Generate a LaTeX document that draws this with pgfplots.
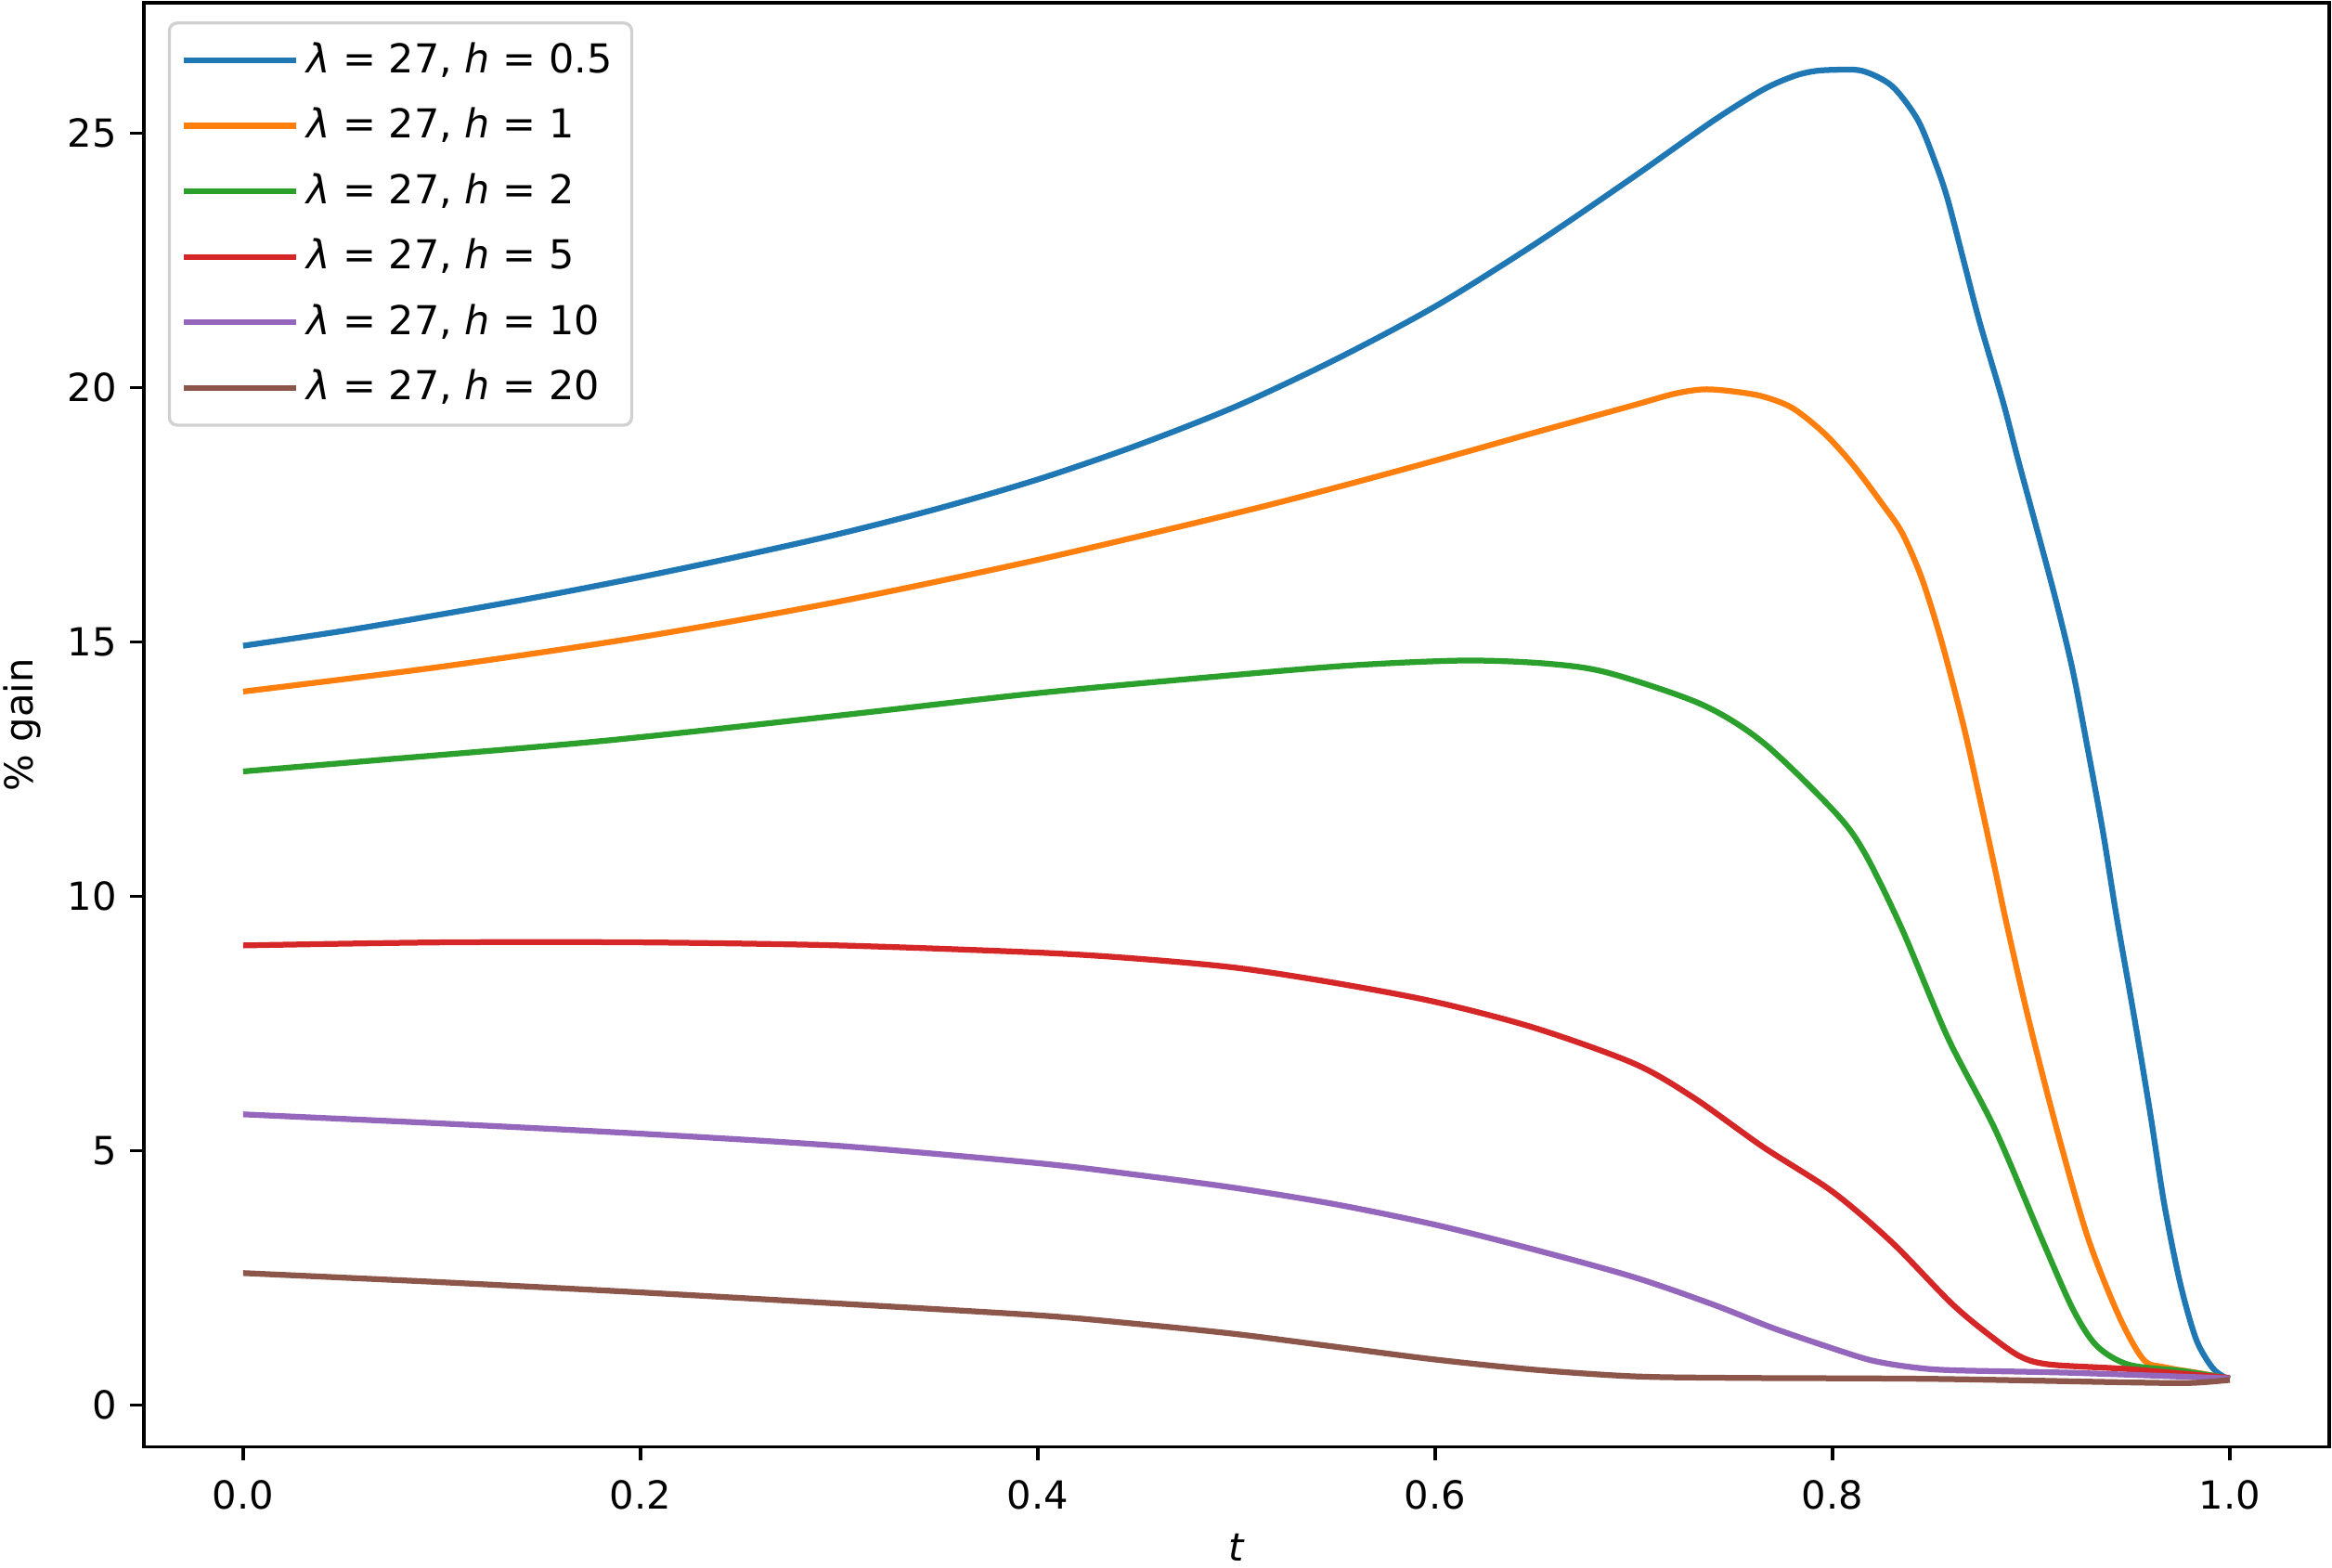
\documentclass[border=0pt]{standalone}
\usepackage{pgfplots}
\pgfplotsset{compat=1.18}
\usepackage{fontspec}
\setmainfont{DejaVu Sans}
\definecolor{C0}{HTML}{1F77B4}
\definecolor{C1}{HTML}{FF7F0E}
\definecolor{C2}{HTML}{2CA02C}
\definecolor{C3}{HTML}{D62728}
\definecolor{C4}{HTML}{9467BD}
\definecolor{C5}{HTML}{8C564B}
\newcommand{\lab}[1]{\textit{λ} = 27, \textit{h} = #1}
\begin{document}
\begin{tikzpicture}
\begin{axis}[
  scale only axis,
  width=565pt, height=373.4pt,
  xmin=-0.05, xmax=1.05, ymin=-0.82, ymax=27.57,
  xtick={0,0.2,0.4,0.6,0.8,1.0},
  ytick={0,5,10,15,20,25},
  xticklabel style={/pgf/number format/fixed,/pgf/number format/fixed zerofill,/pgf/number format/precision=1, yshift=-1.5pt},
  /pgf/number format/assume math mode=true,
  tick align=outside, tick pos=left,
  major tick length=3.5pt,
  every tick/.style={black, line width=0.8pt},
  axis line style={line width=0.8pt},
  ticklabel style={font=\fontsize{10}{12}\selectfont},
  xlabel={\textit{t}}, ylabel={\% gain},
  label style={font=\fontsize{10}{12}\selectfont},
  xlabel style={yshift=0.5pt},
  legend style={at={(rel axis cs:0.011,0.987)}, anchor=north west,
    draw=black!18, line width=0.8pt, rounded corners=2pt, fill=white,
    font=\fontsize{10.3}{12}\selectfont, row sep=3.6pt, inner xsep=3pt, inner ysep=3pt},
  legend cell align=left,
  legend image code/.code={\draw[#1, line width=1.5pt] (0pt,0pt) -- (24pt,0pt); \path (0pt,0pt) -- (29pt,0pt);},
  every axis plot/.append style={line width=1.5pt, smooth, tension=0.5},
]
\addplot[C0] coordinates {(0,14.93)(0.05,15.22)(0.1,15.55)(0.15,15.9)(0.2,16.28)(0.25,16.69)(0.3,17.13)(0.35,17.63)(0.4,18.2)(0.45,18.87)(0.5,19.64)(0.55,20.56)(0.6,21.6)(0.65,22.82)(0.7,24.15)(0.74,25.25)(0.765,25.86)(0.78,26.12)(0.79,26.22)(0.8,26.25)(0.815,26.23)(0.83,25.93)(0.843,25.26)(0.852,24.4)(0.858,23.7)(0.866,22.5)(0.874,21.3)(0.886,19.7)(0.894,18.5)(0.911,16.04)(0.9206,14.5)(0.928,13.0)(0.936,11.3)(0.943,9.6)(0.952,7.6)(0.96,5.72)(0.967,3.95)(0.975,2.4)(0.983,1.3)(0.991,0.75)(0.997,0.56)(1.0,0.52)};
\addlegendentry{\lab{0.5}}
\addplot[C1] coordinates {(0,14.03)(0.1,14.52)(0.2,15.1)(0.3,15.8)(0.4,16.62)(0.5,17.54)(0.55,18.04)(0.6,18.57)(0.65,19.12)(0.7,19.66)(0.72,19.88)(0.735,19.97)(0.75,19.93)(0.765,19.83)(0.78,19.6)(0.796,19.1)(0.81,18.5)(0.825,17.72)(0.835,17.15)(0.845,16.25)(0.855,15.0)(0.866,13.35)(0.874,11.95)(0.882,10.5)(0.888,9.4)(0.899,7.54)(0.913,5.41)(0.9285,3.3)(0.944,1.77)(0.9565,0.9)(0.967,0.75)(0.985,0.63)(1.0,0.52)};
\addlegendentry{\lab{1}}
\addplot[C2] coordinates {(0,12.46)(0.064,12.67)(0.181,13.06)(0.2977,13.55)(0.4,14.0)(0.5,14.36)(0.56,14.55)(0.615,14.64)(0.656,14.58)(0.687,14.4)(0.734,13.78)(0.765,13.03)(0.801,11.67)(0.816,10.87)(0.835,9.36)(0.858,7.23)(0.882,5.41)(0.905,3.3)(0.921,1.89)(0.933,1.17)(0.949,0.8)(0.975,0.68)(0.995,0.56)(1.0,0.52)};
\addlegendentry{\lab{2}}
\addplot[C3] coordinates {(0,9.04)(0.1,9.1)(0.2,9.1)(0.3,9.04)(0.4,8.9)(0.45,8.78)(0.5,8.6)(0.55,8.3)(0.6,7.93)(0.65,7.42)(0.7,6.72)(0.73,6.05)(0.765,5.08)(0.8,4.2)(0.83,3.2)(0.86,2.0)(0.88,1.35)(0.895,0.95)(0.91,0.8)(0.95,0.71)(1.0,0.54)};
\addlegendentry{\lab{5}}
\addplot[C4] coordinates {(0,5.72)(0.1,5.54)(0.2,5.34)(0.3,5.1)(0.4,4.76)(0.45,4.53)(0.5,4.27)(0.55,3.95)(0.6,3.55)(0.65,3.06)(0.7,2.52)(0.74,1.98)(0.77,1.52)(0.8,1.12)(0.82,0.88)(0.84,0.75)(0.86,0.69)(0.92,0.64)(1.0,0.53)};
\addlegendentry{\lab{10}}
\addplot[C5] coordinates {(0,2.6)(0.1,2.42)(0.2,2.22)(0.3,2.0)(0.4,1.77)(0.45,1.6)(0.5,1.4)(0.55,1.15)(0.6,0.9)(0.65,0.7)(0.7,0.57)(0.75,0.54)(0.85,0.52)(0.95,0.45)(0.98,0.44)(1.0,0.5)};
\addlegendentry{\lab{20}}
\coordinate (bbl) at (rel axis cs:-0.0658,-0.0835);
\coordinate (bbr) at (rel axis cs:1.0013,1.0019);
\end{axis}
\pgfresetboundingbox
\path[use as bounding box] (bbl) rectangle (bbr);
\end{tikzpicture}
\end{document}
